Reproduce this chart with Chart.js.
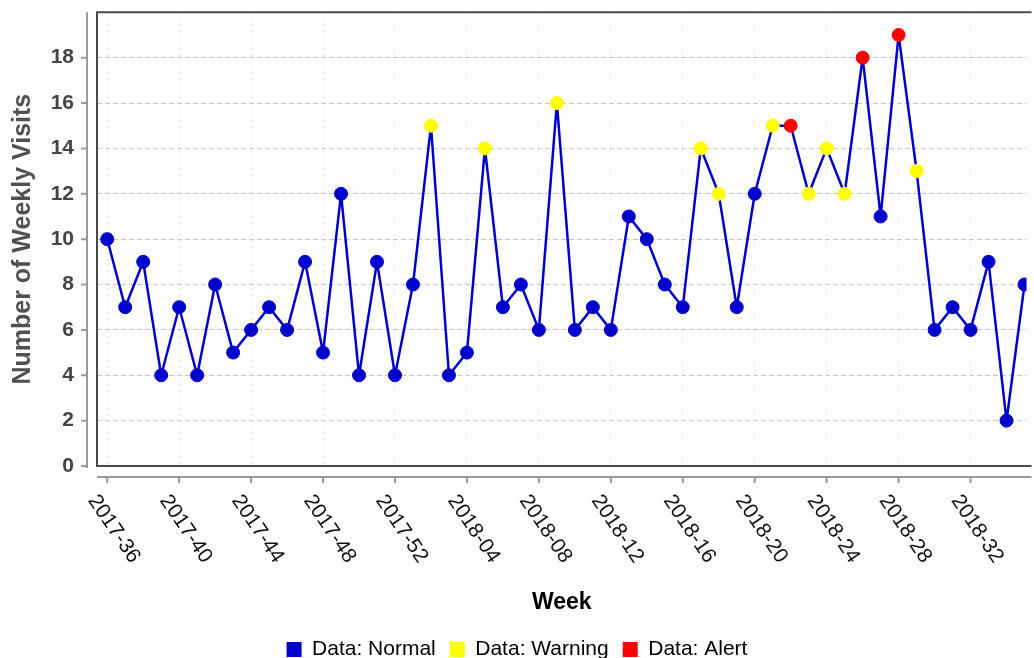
<!DOCTYPE html>
<html>
<head>
<meta charset="utf-8">
<script src="https://cdn.jsdelivr.net/npm/chart.js@4/dist/chart.umd.min.js"></script>
<style>
  html, body { margin: 0; padding: 0; background: #fff; overflow: hidden; }
  #wrap { width: 1034px; height: 670px; }
</style>
</head>
<body>
<div id="wrap"><canvas id="grafico" width="1034" height="670"></canvas></div>
<script>
const weeks = [
  '2017-36', '2017-37', '2017-38', '2017-39', '2017-40', '2017-41', '2017-42', '2017-43',
  '2017-44', '2017-45', '2017-46', '2017-47', '2017-48', '2017-49', '2017-50', '2017-51',
  '2017-52', '2018-01', '2018-02', '2018-03', '2018-04', '2018-05', '2018-06', '2018-07',
  '2018-08', '2018-09', '2018-10', '2018-11', '2018-12', '2018-13', '2018-14', '2018-15',
  '2018-16', '2018-17', '2018-18', '2018-19', '2018-20', '2018-21', '2018-22', '2018-23',
  '2018-24', '2018-25', '2018-26', '2018-27', '2018-28', '2018-29', '2018-30', '2018-31',
  '2018-32', '2018-33', '2018-34', '2018-35'
];
const visits = [
  10, 7, 9, 4, 7, 4, 8, 5, 6, 7, 6, 9, 5, 12, 4, 9,
  4, 8, 15, 4, 5, 14, 7, 8, 6, 16, 6, 7, 6, 11, 10, 8,
  7, 14, 12, 7, 12, 15, 15, 12, 14, 12, 18, 11, 19, 13, 6, 7,
  6, 9, 2, 8
];
// N = Normal, W = Warning, A = Alert
const status = [
  'N', 'N', 'N', 'N', 'N', 'N', 'N', 'N', 'N', 'N', 'N', 'N', 'N', 'N', 'N', 'N',
  'N', 'N', 'W', 'N', 'N', 'W', 'N', 'N', 'N', 'W', 'N', 'N', 'N', 'N', 'N', 'N',
  'N', 'W', 'W', 'N', 'N', 'W', 'A', 'W', 'W', 'W', 'A', 'N', 'A', 'W', 'N', 'N',
  'N', 'N', 'N', 'N'
];
const statusKeys = ['N', 'W', 'A'];
const statusNames = ['Data: Normal', 'Data: Warning', 'Data: Alert'];
const statusColors = ['#0000cc', '#ffff00', '#ff0000'];
const yTicks = [0, 2, 4, 6, 8, 10, 12, 14, 16, 18];

const corPonto = status.map(s => statusColors[statusKeys.indexOf(s)]);

// frame around the plot, detached axis lines and the slanted week labels
const molduraEixos = {
  id: 'molduraEixos',
  beforeDatasetsDraw(chart) {
    const { ctx, chartArea: a, scales: { x, y } } = chart;
    ctx.save();
    ctx.strokeStyle = '#4a4a4a';
    ctx.lineWidth = 2;
    ctx.beginPath();
    ctx.moveTo(a.right + 5, a.top);
    ctx.lineTo(a.left, a.top);
    ctx.lineTo(a.left, a.bottom);
    ctx.lineTo(a.right + 5, a.bottom);
    ctx.stroke();

    const eixoY = a.left - 10;
    const eixoX = a.bottom + 11;
    ctx.strokeStyle = '#9a9a9a';
    ctx.beginPath();
    ctx.moveTo(eixoY, a.top);
    ctx.lineTo(eixoY, a.bottom + 2);
    yTicks.forEach(v => {
      const py = y.getPixelForValue(v);
      ctx.moveTo(eixoY - 6, py);
      ctx.lineTo(eixoY, py);
    });
    ctx.moveTo(a.left, eixoX);
    ctx.lineTo(a.right + 5, eixoX);
    x.ticks.forEach(t => {
      const px = x.getPixelForValue(t.value);
      ctx.moveTo(px, eixoX);
      ctx.lineTo(px, eixoX + 6);
    });
    ctx.stroke();

    ctx.fillStyle = '#111';
    ctx.font = '21px "Liberation Sans", Arial, sans-serif';
    ctx.textAlign = 'left';
    ctx.textBaseline = 'middle';
    x.ticks.forEach(t => {
      const px = x.getPixelForValue(t.value);
      ctx.save();
      ctx.translate(px - 15, eixoX + 20);
      ctx.rotate(56 * Math.PI / 180);
      ctx.fillText(weeks[t.value], 0, 0);
      ctx.restore();
    });
    ctx.restore();
  }
};

const ctx = document.getElementById('grafico').getContext('2d');

const chart = new Chart(ctx, {
  type: 'line',
  data: {
    datasets: [
      {
        label: 'Visits',
        data: visits.map((v, i) => ({ x: i, y: v })),
        borderColor: '#0000cc',
        borderWidth: 2.5,
        borderJoinStyle: 'round',
        tension: 0,
        pointRadius: 6.5,
        pointBackgroundColor: corPonto,
        pointBorderColor: corPonto,
        pointBorderWidth: 1
      }
    ]
  },
  options: {
    animation: false,
    responsive: false,
    devicePixelRatio: 1,
    layout: { padding: { top: 12.3, left: 0, right: 0, bottom: 0 } },
    plugins: {
      tooltip: { enabled: false },
      legend: {
        position: 'bottom',
        labels: {
          boxWidth: 15,
          boxHeight: 15,
          padding: 14,
          color: '#000',
          font: { family: '"Liberation Sans", Arial, sans-serif', size: 21 },
          generateLabels: () => statusNames.map((n, i) => ({
            text: n,
            fillStyle: statusColors[i],
            strokeStyle: statusColors[i],
            lineWidth: 0,
            hidden: false,
            datasetIndex: 0
          }))
        },
        onClick: () => {}
      }
    },
    scales: {
      x: {
        type: 'linear',
        min: -0.568,
        max: 51.11,
        ticks: { display: false, stepSize: 4, includeBounds: false },
        grid: { color: '#e2e2e2', lineWidth: 1, drawTicks: false },
        border: { display: false, dash: [2, 4] },
        title: {
          display: true,
          text: 'Week',
          color: '#000',
          font: { family: '"Liberation Sans", Arial, sans-serif', size: 23, weight: 'bold' },
          padding: { top: 0, bottom: 9 }
        },
        afterFit: (scale) => { scale.height = 159; }
      },
      y: {
        min: 0,
        max: 20,
        ticks: {
          stepSize: 2,
          padding: 23,
          color: '#444',
          font: { family: '"Liberation Sans", Arial, sans-serif', size: 21, weight: 'bold' },
          callback: (v) => yTicks.includes(v) ? String(v) : ''
        },
        grid: { color: '#c4c4c4', lineWidth: 1, drawTicks: false },
        border: { display: false, dash: [5, 3] },
        title: {
          display: true,
          text: 'Number of Weekly Visits',
          color: '#505050',
          font: { family: '"Liberation Sans", Arial, sans-serif', size: 25, weight: 'bold' },
          padding: { top: 8, bottom: 0 }
        },
        afterFit: (scale) => {
          scale.width = 97;
          scale.paddingTop = 0;
          scale.paddingBottom = 0;
        }
      }
    }
  },
  plugins: [molduraEixos]
});
</script>
</body>
</html>
